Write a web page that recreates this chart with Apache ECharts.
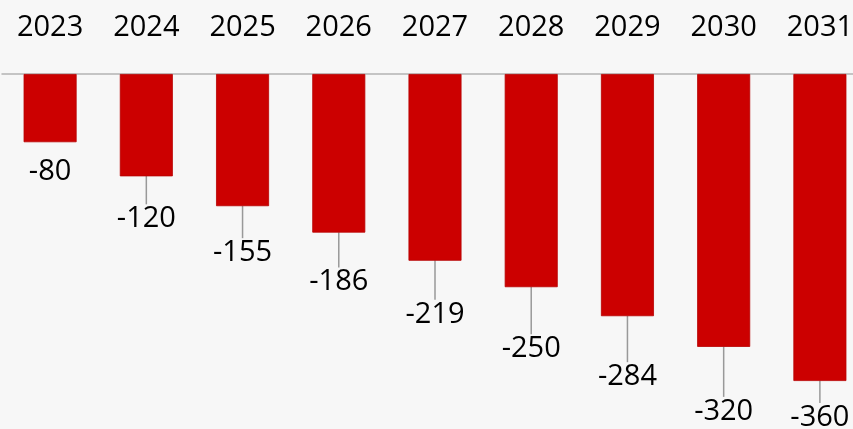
<!DOCTYPE html>
<html><head><meta charset="utf-8">
<script src="https://cdn.jsdelivr.net/npm/echarts@6/dist/echarts.min.js"></script>
<style>html,body{margin:0;padding:0;background:#f7f7f7;}#c{width:853px;height:429px;}</style>
</head><body><div id="c"></div>
<script>
const categories = ['2023','2024','2025','2026','2027','2028','2029','2030','2031'];
const values = [-80,-120,-155,-186,-219,-250,-284,-320,-360];
const labelShift = [10,23,27,30,34,42,41,45,17];

const chart = echarts.init(document.getElementById('c'));
chart.setOption({
  backgroundColor:'#f7f7f7',
  animation:false,
  grid:{left:2, top:74, width:866, height:307, outerBoundsMode:'none', containLabel:false},
  xAxis:{type:'category', position:'top', data:categories,
    axisLine:{lineStyle:{color:'#b4b4b4', width:1.5}}, axisTick:{show:false},
    axisLabel:{color:'#000', fontSize:29, fontFamily:'Open Sans', margin:32}},
  yAxis:{type:'value', min:-360, max:0, show:false, splitLine:{show:false}},
  series:[{type:'bar', barWidth:53,
    data: values.map((v,i)=>({value:v, labelLine:{show:i!==0}})),
    itemStyle:{color:'#cc0000', borderColor:'#b80000', borderWidth:0.8},
    label:{show:true, position:'bottom', distance:5, color:'#000', fontSize:29, fontFamily:'Open Sans'},
    labelLine:{show:true, lineStyle:{color:'#999', width:1.5}},
    labelLayout:function(p){ return {dy: labelShift[p.dataIndex]}; }
  }]
});
</script></body></html>
